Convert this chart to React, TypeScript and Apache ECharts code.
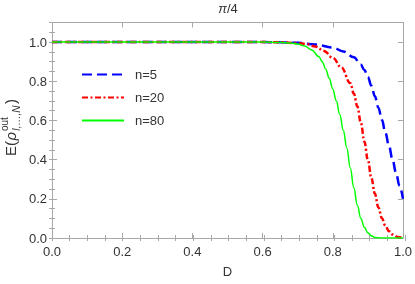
import React, { useEffect, useRef } from "react";
import * as echarts from "echarts";

// ---- data ----
const D_n5 = [0, 0.2, 0.4, 0.6, 0.65, 0.7, 0.75, 0.8, 0.83, 0.86, 0.88, 0.89, 0.9, 0.91, 0.92, 0.93, 0.94, 0.95, 0.96, 0.97, 0.98, 0.99, 1.0];
const E_n5 = [1, 1, 1, 1, 0.999, 0.996, 0.988, 0.972, 0.952, 0.923, 0.885, 0.857, 0.822, 0.777, 0.723, 0.665, 0.603, 0.538, 0.471, 0.403, 0.335, 0.267, 0.2];

const D_n20 = [0, 0.2, 0.4, 0.6, 0.65, 0.7, 0.725, 0.75, 0.775, 0.8, 0.825, 0.85, 0.86, 0.87, 0.88, 0.89, 0.9, 0.91, 0.92, 0.93, 0.94, 0.95, 0.96, 0.97, 0.985, 1.0];
const E_n20 = [1, 1, 1, 1, 0.999, 0.995, 0.99, 0.978, 0.955, 0.92, 0.87, 0.79, 0.737, 0.672, 0.588, 0.493, 0.398, 0.307, 0.226, 0.156, 0.101, 0.062, 0.035, 0.018, 0.005, 0];

const D_n80 = [0, 0.2, 0.4, 0.6, 0.65, 0.68, 0.7, 0.72, 0.74, 0.76, 0.77, 0.78, 0.79, 0.8, 0.81, 0.82, 0.83, 0.84, 0.85, 0.86, 0.87, 0.88, 0.89, 0.9, 0.91, 0.92, 0.94, 1.0];
const E_n80 = [1, 1, 1, 1, 0.998, 0.995, 0.99, 0.98, 0.96, 0.926, 0.9, 0.862, 0.815, 0.76, 0.7, 0.63, 0.55, 0.46, 0.357, 0.256, 0.167, 0.1, 0.055, 0.027, 0.011, 0.003, 0, 0];

const seriesNames = ["n=5", "n=20", "n=80"];
const xTicks = [0, 0.2, 0.4, 0.6, 0.8, 1.0];
const yTicks = [0, 0.2, 0.4, 0.6, 0.8, 1.0];

const FRAME = "#a8a8a8";
const TEXT = "#333333";
const FONT = "'Liberation Sans', Arial, sans-serif";

const isTick = (v: number, ticks: number[]) => ticks.some((t) => Math.abs(t - v) < 1e-6);

export default function App() {
  const ref = useRef<HTMLDivElement>(null);
  useEffect(() => {
    if (!ref.current) return;
    const chart = echarts.init(ref.current, undefined, { renderer: "svg" });
    const gridPos = { left: 52, right: 10, top: 22.5, bottom: 46 };
    const major = (extra: any) => ({
      type: "value",
      min: 0,
      interval: 0.2,
      axisLine: { show: true, onZero: false, lineStyle: { color: FRAME, width: 1 } },
      axisTick: { show: true, inside: true, length: 5, lineStyle: { color: FRAME } },
      splitLine: { show: false },
      ...extra,
    });
    const minor = (extra: any) => ({
      type: "value",
      min: 0,
      interval: 0.05,
      gridIndex: 1,
      axisLine: { show: false },
      axisTick: { show: true, inside: true, length: 3, lineStyle: { color: FRAME } },
      axisLabel: { show: false },
      splitLine: { show: false },
      ...extra,
    });
    const pairs = (xs: number[], ys: number[]) => xs.map((x, i) => [x, ys[i]]);
    const line = (i: number, xs: number[], ys: number[], color: string, width: number, type: any) => ({
      name: seriesNames[i],
      type: "line",
      data: pairs(xs, ys),
      showSymbol: false,
      symbol: "none",
      smooth: 0.4,
      smoothMonotone: "x",
      color,
      lineStyle: { color, width, type },
      z: 3 + i,
    });
    chart.setOption({
      animation: false,
      grid: [
        { ...gridPos, containLabel: false },
        { ...gridPos, containLabel: false },
      ],
      xAxis: [
        major({
          position: "bottom",
          max: 1,
          axisLabel: {
            color: TEXT,
            fontSize: 13,
            fontFamily: FONT,
            margin: 7,
            formatter: (v: number) => (isTick(v, xTicks) ? v.toFixed(1) : ""),
          },
          name: "D",
          nameLocation: "middle",
          nameGap: 27,
          nameTextStyle: { color: TEXT, fontSize: 13, fontFamily: FONT },
        }),
        major({ position: "top", max: 1, axisLabel: { show: false } }),
        minor({ position: "bottom", max: 1 }),
        minor({ position: "top", max: 1 }),
      ],
      yAxis: [
        major({
          position: "left",
          max: 1.1,
          axisLabel: {
            color: TEXT,
            fontSize: 13,
            fontFamily: FONT,
            margin: 5,
            padding: [4, 0, 0, 0],
            formatter: (v: number) => (isTick(v, yTicks) ? v.toFixed(1) : ""),
          },
        }),
        major({ position: "right", max: 1.1, axisLabel: { show: false } }),
        minor({ position: "left", max: 1.1 }),
        minor({ position: "right", max: 1.1 }),
      ],
      legend: {
        orient: "vertical",
        left: 76,
        top: 63,
        itemWidth: 42,
        itemHeight: 14,
        itemGap: 10,
        itemStyle: { opacity: 0 },
        textStyle: { color: TEXT, fontSize: 13, fontFamily: FONT, padding: [0, 0, 0, 6] },
        data: seriesNames,
      },
      series: [
        line(0, D_n5, E_n5, "#0000ff", 2.5, [10, 5]),
        line(1, D_n20, E_n20, "#ff0000", 2.5, [6, 2.5, 2, 2.5]),
        line(2, D_n80, E_n80, "#00ff00", 1.5, "solid"),
      ],
      graphic: [
        {
          type: "text",
          x: 228,
          y: 2,
          style: {
            text: "{i|π}/4",
            textAlign: "center",
            fill: TEXT,
            font: `13px ${FONT}`,
            rich: { i: { fontStyle: "italic", fontSize: 13, fontFamily: FONT, fill: TEXT } },
          },
        },
        {
          type: "group",
          x: 10,
          y: 156,
          rotation: Math.PI / 2,
          children: [
            { type: "text", x: 0, y: 0, style: { text: "E(", font: `15px ${FONT}`, fill: TEXT, verticalAlign: "middle" } },
            { type: "text", x: 15.5, y: 0, style: { text: "ρ", font: `italic 15px ${FONT}`, fill: TEXT, verticalAlign: "middle" } },
            { type: "text", x: 25, y: -6, style: { text: "out", font: `10px ${FONT}`, fill: TEXT, verticalAlign: "middle" } },
            { type: "text", x: 25, y: 6, style: { text: "I,…,N", font: `italic 10px ${FONT}`, fill: TEXT, verticalAlign: "middle" } },
            { type: "text", x: 52, y: 0, style: { text: ")", font: `15px ${FONT}`, fill: TEXT, verticalAlign: "middle" } },
          ],
        },
      ],
    });
    return () => chart.dispose();
  }, []);
  return <div ref={ref} style={{ width: 415, height: 284, position: "fixed", left: 0, top: 0 }} />;
}
